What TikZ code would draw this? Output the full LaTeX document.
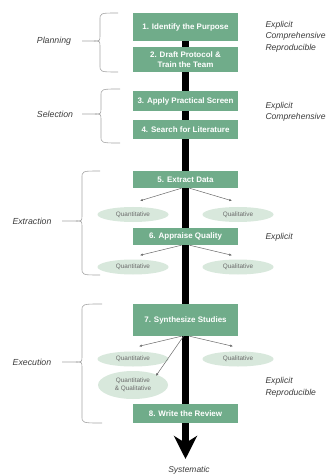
\documentclass[tikz,border=0pt]{standalone}
\usepackage{fontspec}
\setmainfont{Liberation Sans}
\usetikzlibrary{arrows.meta,shapes.geometric}
\definecolor{boxgreen}{HTML}{70AC8A}
\definecolor{ellgreen}{HTML}{D8E8DC}
\definecolor{txtgray}{HTML}{3C3C3C}
\definecolor{lngray}{HTML}{6A6A6A}
\tikzset{
  stepbox/.style={fill=boxgreen, draw=none, minimum width=105bp, text=white,
    font=\bfseries\fontsize{8}{9.5}\selectfont, align=center, inner sep=0pt},
  typebox/.style={ellipse, fill=ellgreen, draw=none, minimum width=71bp, minimum height=15bp,
    inner sep=0pt, text=lngray, font=\fontsize{6.4}{8}\selectfont, align=center},
  sidelab/.style={font=\itshape\fontsize{8.6}{11.5}\selectfont, text=txtgray, align=left, anchor=west},
  phase/.style={font=\itshape\fontsize{8.8}{10}\selectfont, text=txtgray},
  bracepath/.style={draw=lngray!60, line width=0.6bp},
  subarrow/.style={draw=lngray, line width=0.5bp, -{Latex[length=2.8bp,width=2.4bp]}}
}
\newcommand{\mybrace}[6]{% e s t b m l
  \draw[bracepath] (#1,#3) .. controls (#2,#3) .. (#2,#3+7) -- (#2,#5-6)
     .. controls (#2,#5) .. (#2-6,#5) -- (#6,#5);
  \draw[bracepath] (#1,#4) .. controls (#2,#4) .. (#2,#4-7) -- (#2,#5+6)
     .. controls (#2,#5) .. (#2-6,#5);
}
\begin{document}
\begin{tikzpicture}[x=1bp,y=-1bp]
\useasboundingbox[fill=white] (0,0) rectangle (327,475);
% main arrow
\coordinate (atop) at (185.5,30);
\coordinate (abot) at (185.5,459);
\draw[line width=7bp, -{Stealth[length=23bp,width=23bp,inset=7bp]}] (atop) -- (abot);
% boxes
\node[stepbox, minimum height=28bp] (b1) at (185.5,27) {1. Identify the Purpose};
\node[stepbox, minimum height=25bp] (b2) at (185.5,59.5) {2. Draft Protocol \&\\Train the Team};
\node[stepbox, minimum height=20bp] (b3) at (185.5,101) {3. Apply Practical Screen};
\node[stepbox, minimum height=19bp] (b4) at (185.5,129.5) {4. Search for Literature};
\node[stepbox, minimum height=17bp] (b5) at (185.5,179.5) {5. Extract Data};
\node[stepbox, minimum height=17bp] (b6) at (185.5,236.5) {6. Appraise Quality};
\node[stepbox, minimum height=32bp] (b7) at (185.5,320) {7. Synthesize Studies};
\node[stepbox, minimum height=19bp] (b8) at (185.5,413.5) {8. Write the Review};
% ellipses
\node[typebox] (q1) at (133,214.5) {Quantitative};
\node[typebox] (l1) at (238,214.5) {Qualitative};
\node[typebox] (q2) at (133,267) {Quantitative};
\node[typebox] (l2) at (238,267) {Qualitative};
\node[typebox] (q3) at (133,359) {Quantitative};
\node[typebox] (l3) at (238,359) {Qualitative};
\node[typebox, minimum width=70bp, minimum height=28bp] (ql) at (133,385) {Quantitative\\\& Qualitative};
% sub arrows
\draw[subarrow] ([xshift=-4bp]b5.south) -- ([xshift=7bp,yshift=6bp]q1.north);
\draw[subarrow] ([xshift=4bp]b5.south) -- ([xshift=-6bp,yshift=6bp]l1.north);
\draw[subarrow] ([xshift=-4bp]b6.south) -- ([xshift=7bp,yshift=4bp]q2.north);
\draw[subarrow] ([xshift=4bp]b6.south) -- ([xshift=-6bp,yshift=4bp]l2.north);
\draw[subarrow] ([xshift=-4bp]b7.south) -- ([xshift=6bp,yshift=5bp]q3.north);
\draw[subarrow] ([xshift=4bp]b7.south) -- ([xshift=-5bp,yshift=5bp]l3.north);
\draw[subarrow] ([xshift=-2bp]b7.south) -- ([xshift=-2bp,yshift=-1bp]ql.north east);
% side labels
\node[sidelab] (s1) at (262,36.5) {Explicit\\Comprehensive\\Reproducible};
\node[sidelab] (s2) at (262,112) {Explicit\\Comprehensive};
\node[sidelab] (s3) at (262,237) {Explicit};
\node[sidelab] (s4) at (262,387.5) {Explicit\\Reproducible};
\node[font=\itshape\fontsize{8.5}{9}\selectfont, text=txtgray] (sys) at (189,470) {Systematic};
% phases
\node[phase] (p1) at (54,41) {Planning};
\node[phase] (p2) at (55,114) {Selection};
\node[phase] (p3) at (32,221) {Extraction};
\node[phase] (p4) at (32,362) {Execution};
\mybrace{118}{100}{13}{72}{41}{82}
\mybrace{120}{101}{89}{143}{114}{82}
\mybrace{100}{82}{171}{275}{221}{62}
\mybrace{102}{82}{304}{423}{362}{62}
\end{tikzpicture}
\end{document}
